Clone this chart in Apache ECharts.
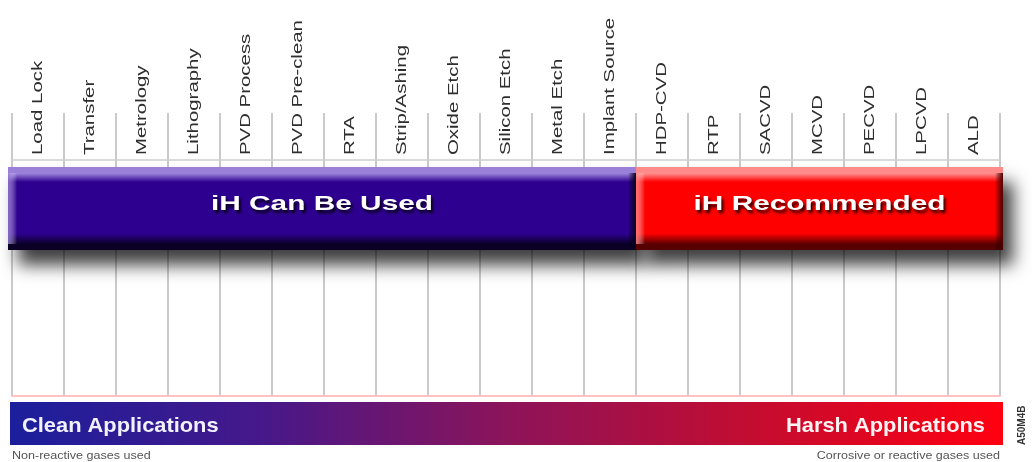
<!DOCTYPE html>
<html>
<head>
<meta charset="utf-8">
<script src="https://cdn.jsdelivr.net/npm/echarts@6/dist/echarts.min.js"></script>
<style>
  html, body { margin: 0; padding: 0; background: #fff; }
  #chart { width: 1032px; height: 462px; }
</style>
</head>
<body>
<div id="chart"></div>
<script>
const categories = [
  'Load Lock', 'Transfer', 'Metrology', 'Lithography', 'PVD Process', 'PVD Pre-clean',
  'RTA', 'Strip/Ashing', 'Oxide Etch', 'Silicon Etch', 'Metal Etch', 'Implant Source',
  'HDP-CVD', 'RTP', 'SACVD', 'MCVD', 'PECVD', 'LPCVD', 'ALD'
];
const rangeLabels = ['iH Can Be Used', 'iH Recommended'];
const rangeStart = [0, 12];
const rangeEnd = [11, 18];
const scaleLeft = 'Clean Applications';
const scaleRight = 'Harsh Applications';
const noteLeft = 'Non-reactive gases used';
const noteRight = 'Corrosive or reactive gases used';

const palettes = [
  { light: '#9a80d8', main: '#2e0090', dark: '#0a0026' },
  { light: '#ff8a8a', main: '#ff0000', dark: '#560000' }
];

const chart = echarts.init(document.getElementById('chart'), null, { renderer: 'canvas' });

// grid top sits where the column lines start; the band sits below the label row
const LABEL_ROW = 47;

function renderRange(params, api) {
  const i = params.dataIndex;
  const last = rangeLabels.length - 1;
  const w = api.size([1, 0])[0];
  const s = api.coord([api.value(0), 0]);
  const e = api.coord([api.value(1), 0]);
  const x0 = s[0] - w / 2 - (i === 0 ? 4 : 0);
  const x1 = e[0] + w / 2 + (i === last ? 3 : 0);
  const top = params.coordSys.y + LABEL_ROW + 7;
  const h = 83;
  const p = palettes[i];
  const vertical = (stops) => new echarts.graphic.LinearGradient(0, 0, 0, 1, stops);
  const horizontal = (stops) => new echarts.graphic.LinearGradient(0, 0, 1, 0, stops);
  return {
    type: 'group',
    children: [
      {
        type: 'rect', z2: 0,
        shape: { x: x0, y: top, width: x1 - x0, height: h },
        style: { fill: p.main, shadowBlur: 16, shadowOffsetX: 10, shadowOffsetY: 15, shadowColor: 'rgba(0,0,0,0.75)' }
      },
      {
        type: 'rect', z2: 10,
        shape: { x: x0, y: top, width: x1 - x0, height: h },
        style: {
          fill: vertical([
            { offset: 0, color: p.light },
            { offset: 0.08, color: p.light },
            { offset: 0.18, color: p.main },
            { offset: 0.8, color: p.main },
            { offset: 0.93, color: p.dark },
            { offset: 1, color: p.dark }
          ])
        }
      },
      {
        type: 'rect', z2: 11,
        shape: { x: x0, y: top + 6, width: 9, height: h - 12 },
        style: { fill: horizontal([{ offset: 0, color: p.light }, { offset: 1, color: 'rgba(255,255,255,0)' }]), opacity: 0.8 }
      },
      {
        type: 'rect', z2: 11,
        shape: { x: x1 - 8, y: top + 6, width: 8, height: h - 6 },
        style: { fill: horizontal([{ offset: 0, color: 'rgba(0,0,0,0)' }, { offset: 1, color: p.dark }]) }
      },
      {
        type: 'text', z2: 12,
        x: (x0 + x1) / 2, y: top + 37, scaleX: 1.42,
        style: {
          text: rangeLabels[i],
          align: 'center', verticalAlign: 'middle',
          fill: '#ffffff',
          font: 'bold 21px "Liberation Sans", Arial, sans-serif',
          textShadowColor: 'rgba(0,0,0,0.85)', textShadowBlur: 3,
          textShadowOffsetX: 2, textShadowOffsetY: 3
        }
      }
    ]
  };
}

function renderLabel(params, api) {
  const c = api.coord([api.value(0), 0]);
  return {
    type: 'text',
    x: c[0], y: params.coordSys.y + LABEL_ROW - 5,
    rotation: Math.PI / 2, scaleX: 1.36,
    style: {
      text: categories[params.dataIndex],
      align: 'left', verticalAlign: 'middle',
      fill: '#2e2e2e',
      font: '15px "Liberation Sans", Arial, sans-serif'
    }
  };
}

chart.setOption({
  backgroundColor: '#ffffff',
  animation: false,
  grid: { left: 12, right: 32, top: 113, bottom: 66 },
  xAxis: [
    {
      type: 'category', position: 'top', offset: -LABEL_ROW, data: categories, boundaryGap: true,
      axisLine: { onZero: false, lineStyle: { color: '#cfcfcf', width: 1.5 } },
      axisTick: { show: false },
      axisLabel: { show: false, interval: 0 },
      splitLine: { show: true, interval: 0, lineStyle: { color: '#bdbdbd', width: 1.6 } }
    },
    {
      type: 'category', position: 'bottom', data: categories, boundaryGap: true,
      axisLine: { onZero: false, lineStyle: { color: '#ffc2c2', width: 2 } },
      axisTick: { show: false }, axisLabel: { show: false }
    }
  ],
  yAxis: { type: 'value', min: 0, max: 1, show: false, splitLine: { show: false } },
  series: [
    {
      type: 'custom', name: 'labels', clip: false, silent: true,
      data: categories.map((c, i) => [i]),
      renderItem: renderLabel
    },
    {
      type: 'custom', name: 'ranges', clip: false,
      data: rangeStart.map((s, i) => [s, rangeEnd[i]]),
      renderItem: renderRange
    }
  ],
  graphic: [
    {
      type: 'rect', left: 10, top: 402,
      shape: { width: 993, height: 43 },
      style: {
        fill: new echarts.graphic.LinearGradient(0, 0, 1, 0, [
          { offset: 0, color: '#1b1f9c' },
          { offset: 0.25, color: '#45188a' },
          { offset: 0.5, color: '#8c145a' },
          { offset: 0.75, color: '#c40c30' },
          { offset: 1, color: '#ff0010' }
        ])
      }
    },
    {
      type: 'text', x: 22, y: 426, scaleX: 1.04,
      style: { text: scaleLeft, fill: '#f2f2ff', verticalAlign: 'middle', font: 'bold 21px "Liberation Sans", Arial, sans-serif' }
    },
    {
      type: 'text', x: 985, y: 426, scaleX: 1.04,
      style: { text: scaleRight, fill: '#fff2f2', align: 'right', verticalAlign: 'middle', font: 'bold 21px "Liberation Sans", Arial, sans-serif' }
    },
    {
      type: 'text', x: 12, y: 456, scaleX: 1.14,
      style: { text: noteLeft, fill: '#555', verticalAlign: 'middle', font: '11px "Liberation Sans", Arial, sans-serif' }
    },
    {
      type: 'text', x: 1000, y: 456, scaleX: 1.14,
      style: { text: noteRight, fill: '#555', align: 'right', verticalAlign: 'middle', font: '11px "Liberation Sans", Arial, sans-serif' }
    },
    {
      type: 'text', x: 1022, y: 445, rotation: Math.PI / 2,
      style: { text: 'A50M4B', fill: '#333', font: 'bold 10px "Liberation Sans", Arial, sans-serif', verticalAlign: 'middle' }
    }
  ]
});
</script>
</body>
</html>
